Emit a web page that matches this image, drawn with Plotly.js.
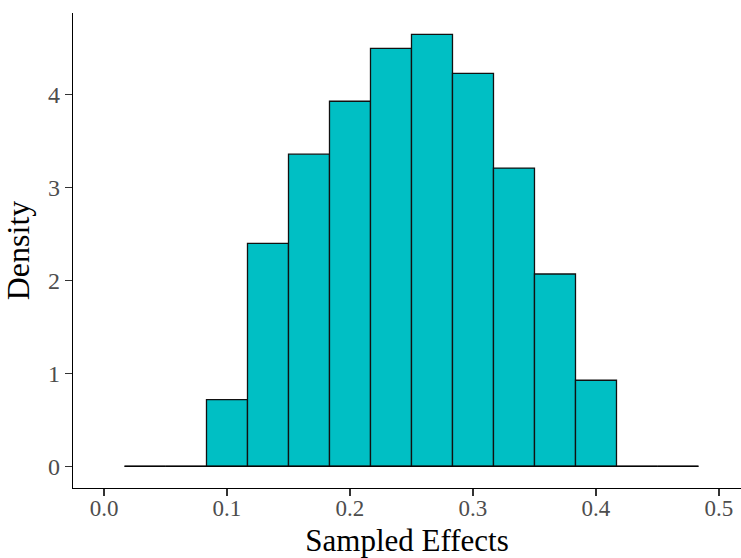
<!DOCTYPE html>
<html>
<head>
<meta charset="utf-8">
<script src="https://cdn.plot.ly/plotly-3.0.1.min.js"></script>
<style>html,body{margin:0;padding:0;background:#fff;}#chart{width:741px;height:558px;}</style>
</head>
<body>
<div id="chart"></div>
<script>
// Histogram bins (centres) and density values
const binWidth = 1 / 30;
const binCenters = [0.03333, 0.06667, 0.1, 0.13333, 0.16667, 0.2, 0.23333, 0.26667, 0.3, 0.33333, 0.36667, 0.4, 0.43333, 0.46667];
const density    = [0, 0, 0.718, 2.40, 3.36, 3.93, 4.50, 4.65, 4.23, 3.21, 2.07, 0.926, 0, 0];
const xTicks = [0, 0.1, 0.2, 0.3, 0.4, 0.5];
const yTicks = [0, 1, 2, 3, 4];

const serif = 'Liberation Serif, Times New Roman, serif';
const edgeLeft = binCenters[0] - binWidth / 2;
const edgeRight = binCenters[binCenters.length - 1] + binWidth / 2;

const baseline = {
  type: 'scatter', mode: 'lines',
  x: [edgeLeft, edgeRight], y: [0, 0],
  line: {color: '#000', width: 1.2},
  hoverinfo: 'skip', showlegend: false
};
const bars = {
  type: 'bar',
  x: binCenters, y: density,
  width: binCenters.map(() => binWidth),
  marker: {color: '#00BFC4', line: {color: '#111', width: 1.3}},
  showlegend: false
};

const layout = {
  width: 741, height: 558,
  margin: {l: 73, r: 0, t: 13, b: 70, pad: 0},
  paper_bgcolor: '#fff', plot_bgcolor: '#fff',
  bargap: 0,
  showlegend: false,
  xaxis: {
    range: [-0.0252, 0.5179],
    tickvals: xTicks, tickformat: '.1f',
    showgrid: false, zeroline: false,
    showline: true, linecolor: '#000', linewidth: 1.1,
    ticks: 'outside', ticklen: 7, tickwidth: 1.1, tickcolor: '#333',
    ticklabelstandoff: -8,
    tickfont: {family: serif, size: 23, color: '#4D4D4D'},
    title: {text: 'Sampled Effects', font: {family: serif, size: 31, color: '#000'}}
  },
  yaxis: {
    range: [-0.234, 4.88],
    tickvals: yTicks, tickformat: 'd',
    showgrid: false, zeroline: false,
    showline: true, linecolor: '#000', linewidth: 1.1,
    ticks: 'outside', ticklen: 7, tickwidth: 1.1, tickcolor: '#333',
    tickfont: {family: serif, size: 24, color: '#4D4D4D'},
    title: {text: 'Density', font: {family: serif, size: 32, color: '#000'}}
  }
};

Plotly.newPlot('chart', [bars, baseline], layout, {displayModeBar: false, staticPlot: true});
</script>
</body>
</html>
